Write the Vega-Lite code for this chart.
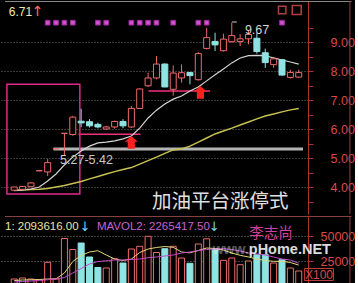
{
"$schema": "https://vega.github.io/schema/vega-lite/v6.json",
"background": "#000000",
"padding": 0,
"spacing": 0,
"config": {"view": {"stroke": null}, "concat": {"spacing": 0},
 "axis": {"labelColor": "#d84a4a", "labelFont": "Liberation Sans", "labelFontSize": 12.5, "tickColor": "#b03030", "domainColor": "#b03030", "gridColor": "#8c8c8c", "gridDash": [1,2], "gridOpacity": 0.9, "labelOpacity": 1, "tickSize": 5}},
"datasets": {
"k": [
{"i":0,"o":3.90,"h":4.01,"l":3.90,"c":4.01,"v":7000,"ma1":3.89,"ma2":3.89,"mv1":5500,"mv2":4000},
{"i":1,"o":3.93,"h":4.04,"l":3.92,"c":4.03,"v":8000,"ma1":3.91,"ma2":3.91,"mv1":6000,"mv2":4500},
{"i":2,"o":4.02,"h":4.16,"l":4.01,"c":4.15,"v":7000,"ma1":3.94,"ma2":3.92,"mv1":6200,"mv2":5000},
{"i":3,"o":4.57,"h":4.57,"l":4.57,"c":4.57,"v":6300,"ma1":4.01,"ma2":3.93,"mv1":6500,"mv2":5500},
{"i":4,"o":4.53,"h":4.97,"l":4.39,"c":4.85,"v":23700,"ma1":4.22,"ma2":3.96,"mv1":7000,"mv2":6200},
{"i":5,"o":5.33,"h":5.33,"l":5.33,"c":5.33,"v":7000,"ma1":4.46,"ma2":4.01,"mv1":7200,"mv2":7000},
{"i":6,"o":5.86,"h":5.86,"l":5.08,"c":5.86,"v":47500,"ma1":4.77,"ma2":4.06,"mv1":13000,"mv2":8500},
{"i":7,"o":5.82,"h":6.46,"l":5.78,"c":6.42,"v":36500,"ma1":5.04,"ma2":4.13,"mv1":24500,"mv2":13000},
{"i":8,"o":6.28,"h":6.71,"l":6.07,"c":6.22,"v":43000,"ma1":5.25,"ma2":4.20,"mv1":30500,"mv2":17500},
{"i":9,"o":6.26,"h":6.35,"l":6.06,"c":6.12,"v":29000,"ma1":5.42,"ma2":4.29,"mv1":34000,"mv2":22000},
{"i":10,"o":6.17,"h":6.23,"l":6.03,"c":6.08,"v":18500,"ma1":5.53,"ma2":4.37,"mv1":35300,"mv2":24500},
{"i":11,"o":6.01,"h":6.12,"l":5.98,"c":6.08,"v":18000,"ma1":5.56,"ma2":4.46,"mv1":31000,"mv2":25200},
{"i":12,"o":6.08,"h":6.30,"l":6.02,"c":6.27,"v":27300,"ma1":5.60,"ma2":4.54,"mv1":27000,"mv2":26000},
{"i":13,"o":6.27,"h":6.35,"l":6.04,"c":6.12,"v":23000,"ma1":5.67,"ma2":4.61,"mv1":25500,"mv2":26000},
{"i":14,"o":6.08,"h":6.80,"l":6.05,"c":6.72,"v":37000,"ma1":5.77,"ma2":4.68,"mv1":27000,"mv2":26500},
{"i":15,"o":6.72,"h":7.41,"l":6.70,"c":7.39,"v":39700,"ma1":6.04,"ma2":4.80,"mv1":33500,"mv2":27000},
{"i":16,"o":7.50,"h":7.95,"l":7.46,"c":7.77,"v":49700,"ma1":6.39,"ma2":4.92,"mv1":37000,"mv2":28300},
{"i":17,"o":7.77,"h":8.53,"l":7.72,"c":8.25,"v":33500,"ma1":6.66,"ma2":5.04,"mv1":38500,"mv2":29000},
{"i":18,"o":8.25,"h":8.27,"l":7.45,"c":7.46,"v":37300,"ma1":6.87,"ma2":5.17,"mv1":39500,"mv2":30000},
{"i":19,"o":7.38,"h":8.20,"l":7.16,"c":7.94,"v":39700,"ma1":7.04,"ma2":5.29,"mv1":38700,"mv2":31000},
{"i":20,"o":7.77,"h":8.24,"l":7.61,"c":7.95,"v":28000,"ma1":7.15,"ma2":5.32,"mv1":34000,"mv2":33000},
{"i":21,"o":7.96,"h":7.97,"l":7.55,"c":7.85,"v":22700,"ma1":7.32,"ma2":5.42,"mv1":33200,"mv2":34000},
{"i":22,"o":7.71,"h":8.66,"l":7.68,"c":8.61,"v":42000,"ma1":7.46,"ma2":5.56,"mv1":35500,"mv2":35500},
{"i":23,"o":8.79,"h":9.50,"l":8.75,"c":9.16,"v":47200,"ma1":7.67,"ma2":5.70,"mv1":38000,"mv2":36500},
{"i":24,"o":9.03,"h":9.33,"l":8.70,"c":8.91,"v":37500,"ma1":7.88,"ma2":5.84,"mv1":37500,"mv2":37000},
{"i":25,"o":8.71,"h":9.30,"l":8.68,"c":9.11,"v":25700,"ma1":8.08,"ma2":5.94,"mv1":36000,"mv2":37300},
{"i":26,"o":9.02,"h":9.67,"l":8.99,"c":9.23,"v":28000,"ma1":8.29,"ma2":6.04,"mv1":33000,"mv2":36500},
{"i":27,"o":9.03,"h":9.28,"l":8.87,"c":9.12,"v":21300,"ma1":8.46,"ma2":6.15,"mv1":30700,"mv2":35000},
{"i":28,"o":9.12,"h":9.41,"l":8.93,"c":9.27,"v":25000,"ma1":8.54,"ma2":6.25,"mv1":29000,"mv2":33000},
{"i":29,"o":9.14,"h":9.33,"l":8.61,"c":8.68,"v":31300,"ma1":8.55,"ma2":6.36,"mv1":27000,"mv2":32000},
{"i":30,"o":8.64,"h":8.78,"l":8.12,"c":8.30,"v":31300,"ma1":8.54,"ma2":6.46,"mv1":25500,"mv2":31000},
{"i":31,"o":8.23,"h":8.50,"l":8.12,"c":8.43,"v":23000,"ma1":8.46,"ma2":6.53,"mv1":24700,"mv2":29000},
{"i":32,"o":8.40,"h":8.40,"l":7.85,"c":7.87,"v":26300,"ma1":8.39,"ma2":6.60,"mv1":24700,"mv2":27000},
{"i":33,"o":7.79,"h":8.05,"l":7.75,"c":7.96,"v":18000,"ma1":8.32,"ma2":6.67,"mv1":23500,"mv2":26000},
{"i":34,"o":7.80,"h":8.05,"l":7.77,"c":7.96,"v":15000,"ma1":8.25,"ma2":6.72,"mv1":20900,"mv2":22650}
],
"sig": [{"i":4},{"i":5},{"i":6},{"i":7},{"i":10},{"i":11},{"i":14},{"i":15},{"i":16},{"i":17},{"i":19},{"i":22},{"i":23},{"i":32}],
"arrows": [{"i":13.99,"p":5.545},{"i":22.25,"p":7.27}]
},
"vconcat": [
{
"width": 308, "height": 213,
"resolve": {"axis": {"y": "independent", "x": "independent"}},
"layer": [
{"data": {"values": [{}]}, "mark": {"type": "rect", "color": "#b4b4b4"},
 "encoding": {
  "x": {"datum": 4.7, "type": "quantitative", "scale": {"domain": [-1.1, 34.51], "nice": false, "zero": false}, "axis": null},
  "x2": {"datum": 34.51},
  "y": {"datum": 5.27, "type": "quantitative", "scale": {"domain": [3.079, 10.424], "nice": false, "zero": false},
   "axis": {"orient": "right", "title": null, "values": [3.5,4,4.5,5,5.5,6,6.5,7,7.5,8,8.5,9,9.5],
    "labelExpr": "datum.value % 1 === 0 ? format(datum.value, '.2f') : ''",
    "grid": true,
    "gridOpacity": {"condition": {"test": "datum.value % 1 !== 0", "value": 0}, "value": 0.9},
    "labelPadding": 17, "labelBaseline": "middle", "labelOverlap": false, "labelFlush": false}},
  "y2": {"datum": 5.37}}},
{"data": {"values": [{}]}, "mark": {"type": "rect", "fill": "transparent", "stroke": "#e0288c", "strokeWidth": 1.5},
 "encoding": {
  "x": {"datum": -0.87, "type": "quantitative", "scale": {"domain": [-1.1, 34.51], "nice": false, "zero": false}, "axis": null},
  "x2": {"datum": 7.84},
  "y": {"datum": 3.77, "type": "quantitative", "scale": {"domain": [3.079, 10.424], "nice": false, "zero": false}, "axis": null},
  "y2": {"datum": 7.55}}},
{"data": {"values": [{}]}, "mark": {"type": "rule", "color": "#f0307f", "strokeWidth": 1.5},
 "encoding": {
  "x": {"datum": 7.69, "type": "quantitative", "scale": {"domain": [-1.1, 34.51], "nice": false, "zero": false}, "axis": null},
  "x2": {"datum": 15.09},
  "y": {"datum": 5.83, "type": "quantitative", "scale": {"domain": [3.079, 10.424], "nice": false, "zero": false}, "axis": null}}},
{"data": {"values": [{}]}, "mark": {"type": "rule", "color": "#f0307f", "strokeWidth": 1.5},
 "encoding": {
  "x": {"datum": 16.05, "type": "quantitative", "scale": {"domain": [-1.1, 34.51], "nice": false, "zero": false}, "axis": null},
  "x2": {"datum": 23.4},
  "y": {"datum": 7.32, "type": "quantitative", "scale": {"domain": [3.079, 10.424], "nice": false, "zero": false}, "axis": null}}},
{"data": {"name": "k"}, "mark": {"type": "line", "color": "#c8c050", "strokeWidth": 1.5},
 "encoding": {
  "x": {"field": "i", "type": "quantitative", "scale": {"domain": [-1.1, 34.51], "nice": false, "zero": false}, "axis": null},
  "y": {"field": "ma2", "type": "quantitative", "scale": {"domain": [3.079, 10.424], "nice": false, "zero": false}, "axis": null}}},
{"data": {"name": "k"}, "mark": {"type": "line", "color": "#d4d4d4", "strokeWidth": 1.2},
 "encoding": {
  "x": {"field": "i", "type": "quantitative", "scale": {"domain": [-1.1, 34.51], "nice": false, "zero": false}, "axis": null},
  "y": {"field": "ma1", "type": "quantitative", "scale": {"domain": [3.079, 10.424], "nice": false, "zero": false}, "axis": null}}},
{"data": {"name": "k"}, "mark": {"type": "rule", "strokeWidth": 1},
 "encoding": {
  "x": {"field": "i", "type": "quantitative", "scale": {"domain": [-1.1, 34.51], "nice": false, "zero": false}, "axis": null},
  "y": {"field": "l", "type": "quantitative", "scale": {"domain": [3.079, 10.424], "nice": false, "zero": false}, "axis": null},
  "y2": {"field": "h"},
  "color": {"condition": {"test": "datum.c >= datum.o", "value": "#f06a6a"}, "value": "#8fe3e3"}}},
{"data": {"name": "k"}, "mark": {"type": "bar", "size": 6, "strokeWidth": 1},
 "encoding": {
  "x": {"field": "i", "type": "quantitative", "scale": {"domain": [-1.1, 34.51], "nice": false, "zero": false}, "axis": null},
  "y": {"field": "o", "type": "quantitative", "scale": {"domain": [3.079, 10.424], "nice": false, "zero": false}, "axis": null},
  "y2": {"field": "c"},
  "fill": {"condition": {"test": "datum.c >= datum.o", "value": "#000000"}, "value": "#8fe3e3"},
  "stroke": {"condition": {"test": "datum.c >= datum.o", "value": "#f06a6a"}, "value": "#8fe3e3"}}},
{"data": {"name": "arrows"}, "mark": {"type": "point", "filled": true, "color": "#ff2020", "opacity": 1, "size": 170, "shape": "M0,-1L1,-0.1L0.55,-0.1L0.55,0.95L-0.55,0.95L-0.55,-0.1L-1,-0.1Z"},
 "encoding": {
  "x": {"field": "i", "type": "quantitative", "scale": {"domain": [-1.1, 34.51], "nice": false, "zero": false}, "axis": null},
  "y": {"field": "p", "type": "quantitative", "scale": {"domain": [3.079, 10.424], "nice": false, "zero": false}, "axis": null}}},
{"data": {"name": "sig"}, "mark": {"type": "point", "shape": "square", "filled": true, "fill": "#d050d0", "stroke": "#9a2a9a", "strokeWidth": 1, "opacity": 1, "size": 22},
 "encoding": {
  "x": {"field": "i", "type": "quantitative", "scale": {"domain": [-1.1, 34.51], "nice": false, "zero": false}, "axis": null},
  "y": {"datum": 9.676, "type": "quantitative", "scale": {"domain": [3.079, 10.424], "nice": false, "zero": false}, "axis": null}}},
{"data": {"values": [{}]}, "mark": {"type": "rule", "color": "#c8c8c8", "strokeWidth": 1},
 "encoding": {
  "x": {"datum": 26.0, "type": "quantitative", "scale": {"domain": [-1.1, 34.51], "nice": false, "zero": false}, "axis": null},
  "x2": {"datum": 26.6},
  "y": {"datum": 9.70, "type": "quantitative", "scale": {"domain": [3.079, 10.424], "nice": false, "zero": false}, "axis": null}}},
{"data": {"values": [{}]}, "mark": {"type": "point", "shape": "square", "filled": false, "stroke": "#b04040", "strokeWidth": 1.5, "opacity": 1, "size": 55},
 "encoding": {
  "x": {"datum": 32.02, "type": "quantitative", "scale": {"domain": [-1.1, 34.51], "nice": false, "zero": false}, "axis": null},
  "y": {"datum": 10.114, "type": "quantitative", "scale": {"domain": [3.079, 10.424], "nice": false, "zero": false}, "axis": null}}},
{"data": {"values": [{}]}, "mark": {"type": "point", "shape": "square", "filled": false, "stroke": "#b04040", "strokeWidth": 1.5, "opacity": 1, "size": 80},
 "encoding": {
  "x": {"datum": 33.76, "type": "quantitative", "scale": {"domain": [-1.1, 34.51], "nice": false, "zero": false}, "axis": null},
  "y": {"datum": 10.114, "type": "quantitative", "scale": {"domain": [3.079, 10.424], "nice": false, "zero": false}, "axis": null}}},
{"data": {"values": [{}]}, "mark": {"type": "text", "text": "6.71", "align": "left", "baseline": "alphabetic", "font": "Liberation Sans", "fontSize": 12, "color": "#f0eaa8"},
 "encoding": {
  "x": {"datum": -0.64, "type": "quantitative", "scale": {"domain": [-1.1, 34.51], "nice": false, "zero": false}, "axis": null},
  "y": {"datum": 9.907, "type": "quantitative", "scale": {"domain": [3.079, 10.424], "nice": false, "zero": false}, "axis": null}}},
{"data": {"values": [{}]}, "mark": {"type": "text", "text": "↑", "align": "center", "baseline": "alphabetic", "font": "DejaVu Sans", "fontSize": 14, "color": "#ff6a6a"},
 "encoding": {
  "x": {"datum": 2.8, "type": "quantitative", "scale": {"domain": [-1.1, 34.51], "nice": false, "zero": false}, "axis": null},
  "y": {"datum": 9.907, "type": "quantitative", "scale": {"domain": [3.079, 10.424], "nice": false, "zero": false}, "axis": null}}},
{"data": {"values": [{}]}, "mark": {"type": "text", "text": "5.27-5.42", "align": "center", "baseline": "alphabetic", "font": "Liberation Sans", "fontSize": 12.5, "color": "#c8c8c8"},
 "encoding": {
  "x": {"datum": 8.64, "type": "quantitative", "scale": {"domain": [-1.1, 34.51], "nice": false, "zero": false}, "axis": null},
  "y": {"datum": 4.793, "type": "quantitative", "scale": {"domain": [3.079, 10.424], "nice": false, "zero": false}, "axis": null}}},
{"data": {"values": [{}]}, "mark": {"type": "text", "text": "9.67", "align": "left", "baseline": "alphabetic", "font": "Liberation Sans", "fontSize": 12.5, "color": "#d4d4d4"},
 "encoding": {
  "x": {"datum": 27.57, "type": "quantitative", "scale": {"domain": [-1.1, 34.51], "nice": false, "zero": false}, "axis": null},
  "y": {"datum": 9.286, "type": "quantitative", "scale": {"domain": [3.079, 10.424], "nice": false, "zero": false}, "axis": null}}},
{"data": {"values": [{}]}, "mark": {"type": "text", "text": "加油平台涨停式", "align": "left", "baseline": "middle", "font": "Noto Sans CJK SC", "fontSize": 19.5, "color": "#e0e0e0"},
 "encoding": {
  "x": {"datum": 16.47, "type": "quantitative", "scale": {"domain": [-1.1, 34.51], "nice": false, "zero": false}, "axis": null},
  "y": {"datum": 3.50, "type": "quantitative", "scale": {"domain": [3.079, 10.424], "nice": false, "zero": false}, "axis": null}}},
{"data": {"values": [{}]}, "mark": {"type": "rule", "color": "#8a8a8a", "strokeWidth": 1},
 "encoding": {
  "x": {"datum": -1.1, "type": "quantitative", "scale": {"domain": [-1.1, 34.51], "nice": false, "zero": false}, "axis": null},
  "x2": {"datum": 40.3},
  "y": {"datum": 10.407, "type": "quantitative", "scale": {"domain": [3.079, 10.424], "nice": false, "zero": false}, "axis": null}}},
{"data": {"values": [{}]}, "mark": {"type": "rule", "color": "#8a4040", "strokeWidth": 1},
 "encoding": {
  "x": {"datum": 40.12, "type": "quantitative", "scale": {"domain": [-1.1, 34.51], "nice": false, "zero": false}, "axis": null},
  "y": {"datum": 3.079, "type": "quantitative", "scale": {"domain": [3.079, 10.424], "nice": false, "zero": false}, "axis": null},
  "y2": {"datum": 10.424}}}
]
},
{
"width": 308, "height": 70,
"resolve": {"axis": {"y": "independent", "x": "independent"}},
"layer": [
{"data": {"name": "k"}, "mark": {"type": "bar", "size": 6, "strokeWidth": 1},
 "encoding": {
  "x": {"field": "i", "type": "quantitative", "scale": {"domain": [-1.1, 34.51], "nice": false, "zero": false}, "axis": null},
  "y": {"field": "v", "type": "quantitative", "scale": {"domain": [0, 70000], "nice": false, "zero": false},
   "axis": {"orient": "right", "title": null, "values": [25000, 50000], "format": "d",
    "grid": true, "labelPadding": 7, "labelBaseline": "middle", "labelOverlap": false, "labelFlush": false}},
  "y2": {"datum": 0},
  "fill": {"condition": {"test": "datum.c >= datum.o", "value": "#000000"}, "value": "#8fe3e3"},
  "stroke": {"condition": {"test": "datum.c >= datum.o", "value": "#f06a6a"}, "value": "#8fe3e3"}}},
{"data": {"name": "k"}, "mark": {"type": "line", "color": "#e0d878", "strokeWidth": 1},
 "encoding": {
  "x": {"field": "i", "type": "quantitative", "scale": {"domain": [-1.1, 34.51], "nice": false, "zero": false}, "axis": null},
  "y": {"field": "mv1", "type": "quantitative", "scale": {"domain": [0, 70000], "nice": false, "zero": false}, "axis": null}}},
{"data": {"name": "k"}, "mark": {"type": "line", "color": "#c848c8", "strokeWidth": 1},
 "encoding": {
  "x": {"field": "i", "type": "quantitative", "scale": {"domain": [-1.1, 34.51], "nice": false, "zero": false}, "axis": null},
  "y": {"field": "mv2", "type": "quantitative", "scale": {"domain": [0, 70000], "nice": false, "zero": false}, "axis": null}}},
{"data": {"values": [{}]}, "mark": {"type": "rule", "color": "#8a4040", "strokeWidth": 1},
 "encoding": {
  "x": {"datum": -1.1, "type": "quantitative", "scale": {"domain": [-1.1, 34.51], "nice": false, "zero": false}, "axis": null},
  "x2": {"datum": 40.3},
  "y": {"datum": 69500, "type": "quantitative", "scale": {"domain": [0, 70000], "nice": false, "zero": false}, "axis": null}}},
{"data": {"values": [{}]}, "mark": {"type": "rule", "color": "#8a4040", "strokeWidth": 1},
 "encoding": {
  "x": {"datum": 40.12, "type": "quantitative", "scale": {"domain": [-1.1, 34.51], "nice": false, "zero": false}, "axis": null},
  "y": {"datum": 0, "type": "quantitative", "scale": {"domain": [0, 70000], "nice": false, "zero": false}, "axis": null},
  "y2": {"datum": 70000}}},
{"data": {"values": [{}]}, "mark": {"type": "text", "text": "1: 2093616.00", "align": "left", "baseline": "alphabetic", "font": "Liberation Sans", "fontSize": 11.5, "color": "#e8e4a0"},
 "encoding": {
  "x": {"datum": -1.098, "type": "quantitative", "scale": {"domain": [-1.1, 34.51], "nice": false, "zero": false}, "axis": null},
  "y": {"datum": 56000, "type": "quantitative", "scale": {"domain": [0, 70000], "nice": false, "zero": false}, "axis": null}}},
{"data": {"values": [{}]}, "mark": {"type": "text", "text": "MAVOL2: 2265417.50", "align": "left", "baseline": "alphabetic", "font": "Liberation Sans", "fontSize": 11.5, "color": "#c860d0"},
 "encoding": {
  "x": {"datum": 9.88, "type": "quantitative", "scale": {"domain": [-1.1, 34.51], "nice": false, "zero": false}, "axis": null},
  "y": {"datum": 56000, "type": "quantitative", "scale": {"domain": [0, 70000], "nice": false, "zero": false}, "axis": null}}},
{"data": {"values": [{}]}, "mark": {"type": "text", "text": "↓", "align": "center", "baseline": "alphabetic", "font": "DejaVu Sans", "fontSize": 13, "color": "#70d8e8"},
 "encoding": {
  "x": {"datum": 8.45, "type": "quantitative", "scale": {"domain": [-1.1, 34.51], "nice": false, "zero": false}, "axis": null},
  "y": {"datum": 55000, "type": "quantitative", "scale": {"domain": [0, 70000], "nice": false, "zero": false}, "axis": null}}},
{"data": {"values": [{}]}, "mark": {"type": "text", "text": "↓", "align": "center", "baseline": "alphabetic", "font": "DejaVu Sans", "fontSize": 13, "color": "#70d8e8"},
 "encoding": {
  "x": {"datum": 23.9, "type": "quantitative", "scale": {"domain": [-1.1, 34.51], "nice": false, "zero": false}, "axis": null},
  "y": {"datum": 55000, "type": "quantitative", "scale": {"domain": [0, 70000], "nice": false, "zero": false}, "axis": null}}},
{"data": {"values": [{}]}, "mark": {"type": "text", "text": "李志尚", "align": "center", "baseline": "middle", "font": "Noto Sans CJK SC", "fontSize": 14.5, "color": "#d040a0"},
 "encoding": {
  "x": {"datum": 30.69, "type": "quantitative", "scale": {"domain": [-1.1, 34.51], "nice": false, "zero": false}, "axis": null},
  "y": {"datum": 52500, "type": "quantitative", "scale": {"domain": [0, 70000], "nice": false, "zero": false}, "axis": null}}},
{"data": {"values": [{}]}, "mark": {"type": "text", "text": "www.", "align": "right", "baseline": "middle", "font": "Liberation Sans", "fontWeight": "bold", "fontSize": 14, "color": "#ffffff", "opacity": 0.35},
 "encoding": {
  "x": {"datum": 28.03, "type": "quantitative", "scale": {"domain": [-1.1, 34.51], "nice": false, "zero": false}, "axis": null},
  "y": {"datum": 36500, "type": "quantitative", "scale": {"domain": [0, 70000], "nice": false, "zero": false}, "axis": null}}},
{"data": {"values": [{}]}, "mark": {"type": "text", "text": "pHome.NET", "align": "left", "baseline": "middle", "font": "Liberation Sans", "fontWeight": "bold", "fontSize": 14.5, "color": "#f4f4f4", "opacity": 0.9},
 "encoding": {
  "x": {"datum": 28.03, "type": "quantitative", "scale": {"domain": [-1.1, 34.51], "nice": false, "zero": false}, "axis": null},
  "y": {"datum": 36500, "type": "quantitative", "scale": {"domain": [0, 70000], "nice": false, "zero": false}, "axis": null}}},
{"data": {"values": [{}]}, "mark": {"type": "rect", "fill": "transparent", "stroke": "#c03a3a", "strokeWidth": 1},
 "encoding": {
  "x": {"datum": 34.68, "type": "quantitative", "scale": {"domain": [-1.1, 34.51], "nice": false, "zero": false}, "axis": null},
  "x2": {"datum": 38.15},
  "y": {"datum": 5500, "type": "quantitative", "scale": {"domain": [0, 70000], "nice": false, "zero": false}, "axis": null},
  "y2": {"datum": 17500}}},
{"data": {"values": [{}]}, "mark": {"type": "text", "text": "X100", "align": "center", "baseline": "middle", "font": "Liberation Sans", "fontSize": 12, "color": "#d84a4a"},
 "encoding": {
  "x": {"datum": 36.42, "type": "quantitative", "scale": {"domain": [-1.1, 34.51], "nice": false, "zero": false}, "axis": null},
  "y": {"datum": 11500, "type": "quantitative", "scale": {"domain": [0, 70000], "nice": false, "zero": false}, "axis": null}}}
]
}
]
}
